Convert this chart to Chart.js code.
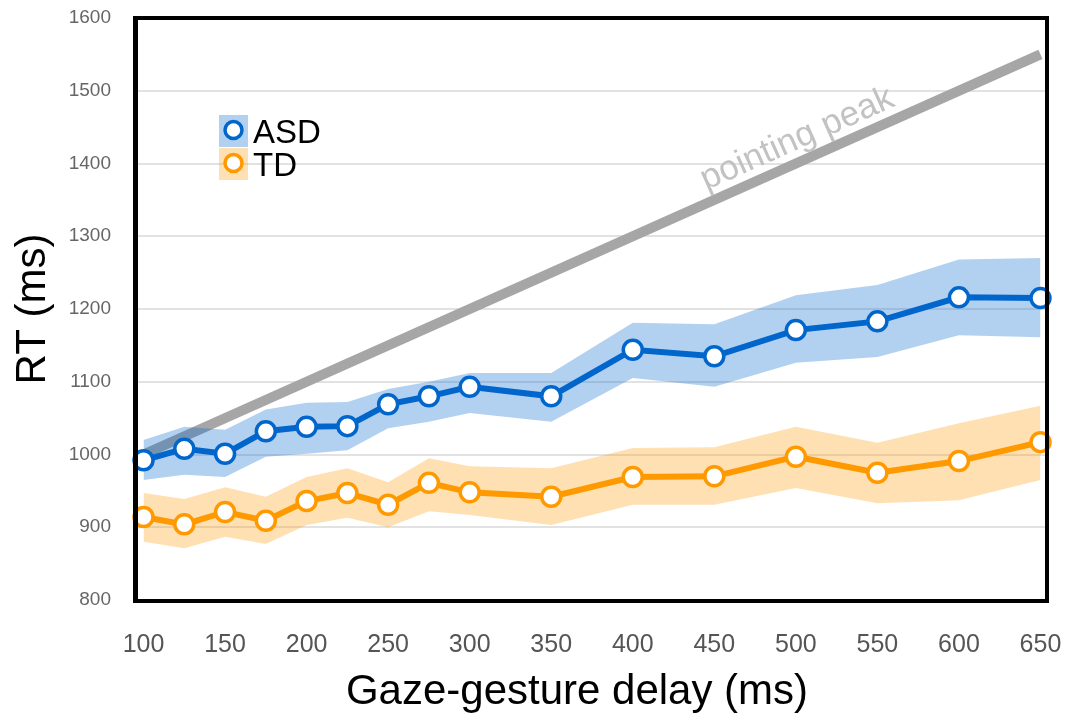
<!DOCTYPE html>
<html>
<head>
<meta charset="utf-8">
<script src="https://cdn.jsdelivr.net/npm/chart.js@4"></script>
<style>
  html, body { margin: 0; padding: 0; background: #fff; }
  #wrap { width: 1067px; height: 718px; }
</style>
</head>
<body>
<div id="wrap"><canvas id="c" width="1067" height="718"></canvas></div>
<script>
// gaze-gesture delay (ms)
const delays = [100, 125, 150, 175, 200, 225, 250, 275, 300, 350, 400, 450, 500, 550, 600, 650];
const asdMean  = [992, 1008, 1001, 1032, 1038, 1039, 1069, 1080, 1093, 1080, 1144, 1135, 1171, 1183, 1216, 1215];
const asdUpper = [1020, 1038, 1034, 1062, 1071, 1072, 1090, 1100, 1112, 1112, 1181, 1179, 1219, 1233, 1268, 1270];
const asdLower = [965, 972, 969, 997, 1001, 1006, 1036, 1045, 1057, 1045, 1105, 1093, 1126, 1134, 1164, 1161];
const tdMean  = [914, 904, 921, 909, 936, 947, 931, 961, 948, 942, 969, 970, 997, 975, 991, 1017];
const tdUpper = [947, 939, 955, 942, 969, 981, 962, 995, 984, 981, 1009, 1010, 1038, 1016, 1043, 1067];
const tdLower = [880, 871, 887, 877, 903, 913, 900, 922, 917, 903, 931, 931, 954, 933, 937, 965];
const peakX = [100, 650];
const peakY = [1000, 1550];
const xTicks = [100, 150, 200, 250, 300, 350, 400, 450, 500, 550, 600, 650];

const pts = (xs, ys) => xs.map((x, i) => ({ x: x, y: ys[i] }));
const BLUE = '#0066cc', ORANGE = '#ff9900';

const band = (ys, color, fill) => ({
  data: pts(delays, ys), borderWidth: 0, pointRadius: 0, backgroundColor: color,
  fill: fill, order: 5, clip: false
});
const line = (ys, color) => ({
  data: pts(delays, ys), borderColor: color, borderWidth: 6, fill: false,
  pointRadius: 9.5, pointBorderWidth: 3.5, pointBackgroundColor: '#fff', pointBorderColor: color,
  order: 1, clip: false
});

const decor = {
  id: 'decor',
  afterDraw(chart) {
    const { ctx, chartArea: a, scales } = chart;
    const xs = scales.x, ys = scales.y;
    ctx.save();
    // frame
    ctx.strokeStyle = '#000';
    ctx.lineWidth = 4;
    ctx.strokeRect(a.left - 1, a.top, a.right - a.left + 1, a.bottom - a.top + 1);
    ctx.fillStyle = '#000';
    ctx.fillRect(a.left - 4, a.top - 2, 2, a.bottom - a.top + 5);
    // pointing peak label
    const x0 = xs.getPixelForValue(448), y0 = ys.getPixelForValue(1348);
    const ang = Math.atan2(ys.getPixelForValue(1550) - ys.getPixelForValue(1000),
                           xs.getPixelForValue(650) - xs.getPixelForValue(100));
    ctx.translate(x0, y0);
    ctx.rotate(ang);
    ctx.fillStyle = '#c2c2c2';
    ctx.font = '35px "Liberation Sans", Arial, sans-serif';
    ctx.textBaseline = 'alphabetic';
    ctx.fillText('pointing peak', 0, -12);
    ctx.restore();

    // legend
    ctx.save();
    const items = [['ASD', BLUE, 'rgba(0,102,204,0.3)', 115], ['TD', ORANGE, 'rgba(255,153,0,0.3)', 148]];
    items.forEach(([lab, col, bg, top]) => {
      ctx.fillStyle = bg;
      ctx.fillRect(219, top, 29, 32);
      ctx.beginPath();
      ctx.arc(233.5, top + 15, 8.5, 0, Math.PI * 2);
      ctx.fillStyle = '#fff';
      ctx.fill();
      ctx.lineWidth = 3.5;
      ctx.strokeStyle = col;
      ctx.stroke();
      ctx.fillStyle = '#000';
      ctx.font = '33px "Liberation Sans", Arial, sans-serif';
      ctx.textBaseline = 'alphabetic';
      ctx.fillText(lab, 253, top + 28);
    });
    // axis titles
    ctx.fillStyle = '#000';
    ctx.font = '42px "Liberation Sans", Arial, sans-serif';
    ctx.textAlign = 'center';
    ctx.textBaseline = 'middle';
    ctx.fillText('Gaze-gesture delay (ms)', 577, 692);
    ctx.translate(33, (a.top + a.bottom) / 2);
    ctx.rotate(-Math.PI / 2);
    ctx.fillText('RT (ms)', 0, 0);
    ctx.restore();
  }
};

new Chart(document.getElementById('c'), {
  type: 'line',
  data: {
    datasets: [
      { data: pts(peakX, peakY), borderColor: '#a6a6a6', borderWidth: 10, pointRadius: 0, fill: false, order: 10, clip: false, borderCapStyle: 'butt' },
      band(asdLower, 'rgba(0,102,204,0.3)', false),
      band(asdUpper, 'rgba(0,102,204,0.3)', '-1'),
      band(tdLower, 'rgba(255,153,0,0.3)', false),
      band(tdUpper, 'rgba(255,153,0,0.3)', '-1'),
      line(asdMean, BLUE),
      line(tdMean, ORANGE)
    ]
  },
  options: {
    responsive: false,
    animation: false,
    events: [],
    layout: { autoPadding: false, padding: { top: 18, right: 20, left: 0, bottom: 0 } },
    plugins: { legend: { display: false }, tooltip: { enabled: false } },
    scales: {
      x: {
        type: 'linear', min: 96, max: 654,
        afterBuildTicks: s => { s.ticks = xTicks.map(v => ({ value: v })); },
        afterFit: s => { s.height = 118; s.paddingLeft = 0; s.paddingRight = 0; },
        grid: { display: false },
        border: { display: false },
        ticks: { padding: 22, color: '#555', maxRotation: 0,
                 font: { family: '"Liberation Sans Narrow", "Liberation Sans", Arial', size: 25 } }
      },
      y: {
        min: 800, max: 1600,
        afterFit: s => { s.width = 137; s.paddingTop = 0; s.paddingBottom = 0; },
        grid: { color: '#e2e2e2', lineWidth: 2, drawTicks: false },
        border: { display: false },
        ticks: { stepSize: 100, padding: 26, color: '#666', callback: v => String(v),
                 font: { family: '"Liberation Sans", Arial', size: 19 } }
      }
    }
  },
  plugins: [decor]
});
</script>
</body>
</html>
